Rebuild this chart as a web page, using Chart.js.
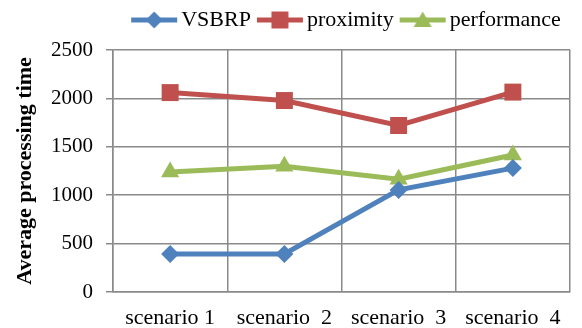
<!DOCTYPE html>
<html><head><meta charset="utf-8">
<script src="https://cdn.jsdelivr.net/npm/chart.js@4/dist/chart.umd.min.js"></script>
<style>html,body{margin:0;padding:0;background:#fff}#wrap{width:582px;height:328px}</style>
</head><body><div id="wrap"><canvas id="c" width="582" height="328"></canvas></div>
<script>
const categories = ["scenario 1", "scenario  2", "scenario  3", "scenario  4"];
const vsbrp = [392, 392, 1055, 1280];
const proximity = [2060, 1978, 1720, 2065];
const performance = [1240, 1298, 1165, 1415];
const yTicks = [0, 500, 1000, 1500, 2000, 2500];

const COLORS = {blue:"#4F81BD", red:"#C0504D", green:"#9BBB59"};

function markerIcon(color, shape){
  const c = document.createElement('canvas');
  c.width = 48; c.height = 20;
  const g = c.getContext('2d');
  g.strokeStyle = color; g.lineWidth = 5;
  g.beginPath(); g.moveTo(1,10); g.lineTo(47,10); g.stroke();
  g.fillStyle = color;
  g.beginPath();
  if(shape==='rectRot'){ g.moveTo(24,1.5); g.lineTo(32.5,10); g.lineTo(24,18.5); g.lineTo(15.5,10); }
  else if(shape==='rect'){ g.rect(15.5,1.5,17,17); }
  else { g.moveTo(24,1.5); g.lineTo(33,17); g.lineTo(15,17); }
  g.closePath(); g.fill();
  return c;
}

const series = [
  {label:"VSBRP", data:vsbrp, color:COLORS.blue, shape:'rectRot', r:9},
  {label:"proximity", data:proximity, color:COLORS.red, shape:'rect', r:12},
  {label:"performance", data:performance, color:COLORS.green, shape:'triangle', r:10.5}
];

const legendTweak = {
  id:'legendTweak',
  afterInit(chart){
    const l = chart.legend;
    if(l && !l._patched){
      const orig = l.fit;
      l.fit = function(){ orig.call(this); this.height = 54; };
      l._patched = true;
    }
  },
  afterLayout(chart){ const l = chart.legend; if(l){ l.left += 60; l.right += 60; } }
};

new Chart(document.getElementById('c'), {
  type:'line',
  data:{
    labels:categories,
    datasets:series.map(s=>({
      label:s.label, data:s.data, borderColor:s.color, backgroundColor:s.color,
      borderWidth:5, pointStyle:s.shape, pointRadius:s.r, pointHoverRadius:s.r,
      pointBorderWidth:0, tension:0, icon:markerIcon(s.color, s.shape)
    }))
  },
  plugins:[legendTweak],
  options:{
    responsive:false, animation:false,
    layout:{padding:{left:0, right:3, top:-4, bottom:0}},
    plugins:{
      tooltip:{enabled:false},
      legend:{
        position:'top', align:'center',
        labels:{
          usePointStyle:true, pointStyleWidth:32, boxHeight:20,
          padding:13,
          color:'#000', font:{family:'Liberation Serif', size:22},
          generateLabels(chart){
            return chart.data.datasets.map((d,i)=>({
              text:d.label, pointStyle:d.icon, fillStyle:d.borderColor,
              strokeStyle:d.borderColor, lineWidth:0, hidden:false, datasetIndex:i, fontColor:'#000'
            }));
          }
        }
      }
    },
    scales:{
      x:{
        offset:true,
        afterFit(s){ s.height = 36; },
        grid:{offset:true, color:'#8a8a8a', lineWidth:1.5, tickLength:0, drawTicks:false},
        border:{color:'#8a8a8a', width:1.5},
        ticks:{color:'#000', font:{family:'Liberation Serif', size:22}, padding:13, maxRotation:0, autoSkip:false}
      },
      y:{
        min:0, max:2500,
        afterBuildTicks(axis){ axis.ticks = yTicks.map(v=>({value:v})); },
        afterFit(s){ s.width = 113; },
        grid:{color:'#8a8a8a', lineWidth:1.5, tickLength:7},
        border:{color:'#8a8a8a', width:1.5},
        ticks:{color:'#000', font:{family:'Liberation Serif', size:21}, padding:13,
          callback:(v)=>String(v)},
        title:{display:true, text:'Average processing time', color:'#000',
          font:{family:'Liberation Serif', size:22, weight:'bold'}, padding:{top:12,bottom:0}}
      }
    }
  }
});
</script>
</body></html>
